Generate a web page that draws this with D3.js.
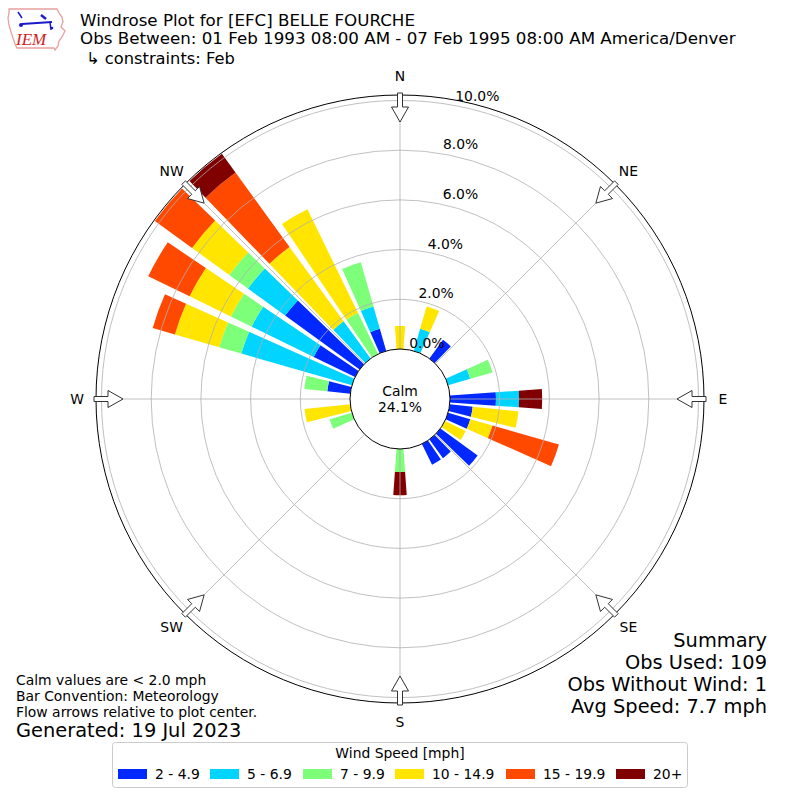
<!DOCTYPE html>
<html>
<head>
<meta charset="utf-8">
<script src="https://cdn.jsdelivr.net/npm/d3@7"></script>
<style>
  html, body { margin: 0; padding: 0; background: #fff; }
  svg { display: block; font-family: "DejaVu Sans", sans-serif; }
</style>
</head>
<body>
<svg id="chart" width="800" height="800"></svg>
<script>
// ---------------- DATA ----------------
const directions = [0,10,20,30,40,50,60,70,80,90,100,110,120,130,140,150,160,170,
                    180,190,200,210,220,230,240,250,260,270,280,290,300,310,320,330,340,350];
const speedBins = ["2 - 4.9", "5 - 6.9", "7 - 9.9", "10 - 14.9", "15 - 19.9", "20+"];
const binColors = ["#0028ff", "#00d4ff", "#7dff7a", "#ffe500", "#ff4800", "#800000"];
// percent of observations, per direction (0..350 by 10)
const s2_4_9   = [0,0,0,0,0.93,0,0,0,0,1.85, 0.93,0.93,0,1.85,0.93,0.93,0,0, 0,0,0,0,0,0,0,0,0,0,0.93,0, 1.85,3.70,0,0,0.93,0];
const s5_6_9   = [0,0,0.93,0,0,0,0,0.93,0,0.93, 0,0,0,0,0,0,0,0, 0,0,0,0,0,0,0,0,0,0,0,4.63, 2.78,1.85,1.85,0,0.93,0];
const s7_9_9   = [0,0,0,0,0,0,0,0.93,0,0, 0,0,0,0,0,0,0,0, 0.93,0,0,0,0,0,0,0.93,0,0,0.93,0.93, 0.93,0.93,0,1.85,1.85,0];
const s10_14_9 = [0.93,0,0.93,0,0,0,0,0,0,0, 1.85,0.93,0.93,0,0,0,0,0, 0,0,0,0,0,0,0,0,1.85,0,0,1.85, 1.85,1.85,3.70,4.63,0,0];
const s15_19_9 = [0,0,0,0,0,0,0,0,0,0, 0,2.78,0,0,0,0,0,0, 0,0,0,0,0,0,0,0,0,0,0,0.93, 1.85,1.85,3.70,0,0,0];
const s20plus  = [0,0,0,0,0,0,0,0,0,0.93, 0,0,0,0,0,0,0,0, 0.93,0,0,0,0,0,0,0,0,0,0,0, 0,0,0.93,0,0,0];
const radialTicks = [0, 2, 4, 6, 8, 10];
const radialMax = 10.22;
const compassLabels = ["N","NE","E","SE","S","SW","W","NW"];
const compassAngles = [0,45,90,135,180,225,270,315];
const calmPct = "24.1%";
const titleLines = ["Windrose Plot for [EFC] BELLE FOURCHE",
                    "Obs Between: 01 Feb 1993 08:00 AM - 07 Feb 1995 08:00 AM America/Denver",
                    "\u21b3 constraints: Feb"];
const noteLines = ["Calm values are < 2.0 mph", "Bar Convention: Meteorology", "Flow arrows relative to plot center."];
const generatedText = "Generated: 19 Jul 2023";
const summaryLines = ["Summary", "Obs Used: 109", "Obs Without Wind: 1", "Avg Speed: 7.7 mph"];

// ---------------- SETUP ----------------
const svg = d3.select("#chart");
const cx = 400, cy = 399;
const r = d3.scaleLinear().domain([0, radialMax]).range([50, 304]);
const rad = d => d * Math.PI / 180;
const halfWidth = 4; // degrees

const seriesArrays = [s2_4_9, s5_6_9, s7_9_9, s10_14_9, s15_19_9, s20plus];
const table = directions.map((dir, i) => {
  const row = { dir };
  speedBins.forEach((b, k) => row[b] = seriesArrays[k][i]);
  return row;
});
const stacked = d3.stack().keys(speedBins)(table);

const g = svg.append("g").attr("transform", `translate(${cx},${cy})`);

// bars
const arc = d3.arc();
stacked.forEach((layer, k) => {
  g.append("g").selectAll("path")
    .data(layer.filter(d => d[1] - d[0] > 0))
    .join("path")
    .attr("d", d => arc({
      innerRadius: r(d[0]), outerRadius: r(d[1]),
      startAngle: rad(d.data.dir - halfWidth), endAngle: rad(d.data.dir + halfWidth)
    }))
    .attr("fill", binColors[k]);
});

// grid rings
g.append("g").selectAll("circle")
  .data(radialTicks.filter(t => t > 0))
  .join("circle")
  .attr("r", d => r(d)).attr("fill", "none")
  .attr("stroke", "#b0b0b0").attr("stroke-width", 0.8);

// radial grid lines
g.append("g").selectAll("line")
  .data(compassAngles)
  .join("line")
  .attr("x1", d => r(0) * Math.sin(rad(d))).attr("y1", d => -r(0) * Math.cos(rad(d)))
  .attr("x2", d => r(radialMax) * Math.sin(rad(d))).attr("y2", d => -r(radialMax) * Math.cos(rad(d)))
  .attr("stroke", "#b0b0b0").attr("stroke-width", 0.8);

// outer circle
g.append("circle").attr("r", r(radialMax)).attr("fill", "none")
  .attr("stroke", "#000").attr("stroke-width", 1);

// calm circle
g.append("circle").attr("r", r(0)).attr("fill", "#fff")
  .attr("stroke", "#000").attr("stroke-width", 1);
g.append("text").attr("x", 0).attr("y", -3).attr("text-anchor", "middle")
  .attr("font-size", 13.9).text("Calm");
g.append("text").attr("x", 0).attr("y", 13).attr("text-anchor", "middle")
  .attr("font-size", 13.9).text(calmPct);

// radial tick labels
g.append("g").selectAll("text")
  .data(radialTicks)
  .join("text")
  .attr("x", d => r(d) * 0.185 + (d === 6 ? 6 : 0) + (d === 8 ? -3 : 0))
  .attr("y", d => -r(d) - 1 + (d === 10 ? 2 : 0))
  .attr("font-size", 13.9)
  .text(d => d.toFixed(1) + "%");

// compass labels
g.append("g").selectAll("text")
  .data(compassAngles)
  .join("text")
  .attr("x", (d) => 323 * Math.sin(rad(d)))
  .attr("y", (d) => -323 * Math.cos(rad(d)) + 5)
  .attr("text-anchor", "middle")
  .attr("font-size", 13.9)
  .text((d, i) => compassLabels[i]);

// flow arrows (pointing to center)
function arrowPath(a) {
  const u = [Math.sin(rad(a)), -Math.cos(rad(a))];
  const v = [Math.cos(rad(a)), Math.sin(rad(a))];
  const P = (rr, off) => [rr * u[0] + off * v[0], rr * u[1] + off * v[1]];
  const pts = [P(306, -2.5), P(292, -2.5), P(292, -8.5), P(277, 0), P(292, 8.5), P(292, 2.5), P(306, 2.5)];
  return "M" + pts.map(p => p[0].toFixed(2) + "," + p[1].toFixed(2)).join("L") + "Z";
}
g.append("g").selectAll("path")
  .data(compassAngles)
  .join("path")
  .attr("d", d => arrowPath(d))
  .attr("fill", "#fff").attr("stroke", "#333").attr("stroke-width", 1);

// ---------------- TITLE ----------------
const titleY = [26, 44, 64];
svg.append("g").selectAll("text")
  .data(titleLines)
  .join("text")
  .attr("x", (d, i) => i === 2 ? 86 : 80)
  .attr("y", (d, i) => titleY[i])
  .attr("font-size", (d, i) => i === 2 ? 16.3 : 16.7)
  .text(d => d);

// logo
const logo = svg.append("g");
logo.append("path")
  .attr("d", "M9,9 L57,9 L59,13 L62,17 L63,22 L61,27 L65,31 L62,37 L59,41 L58,46 L55,50 L54,48 L17,48 L15,44 L13,38 L11,32 L9,25 L8,18 L9,13 Z")
  .attr("fill", "#fff").attr("stroke", "#e8a0a0").attr("stroke-width", 1.3);
logo.append("line").attr("x1", 22).attr("y1", 24).attr("x2", 52).attr("y2", 22)
  .attr("stroke", "#1a1acc").attr("stroke-width", 2);
logo.append("line").attr("x1", 18).attr("y1", 12).attr("x2", 22).attr("y2", 18)
  .attr("stroke", "#1a1acc").attr("stroke-width", 1.5);
logo.append("line").attr("x1", 41).attr("y1", 15).attr("x2", 46).attr("y2", 19)
  .attr("stroke", "#1a1acc").attr("stroke-width", 2.5);
logo.append("line").attr("x1", 50).attr("y1", 22).attr("x2", 51).attr("y2", 30)
  .attr("stroke", "#1a1acc").attr("stroke-width", 1.5);
logo.append("circle").attr("cx", 21).attr("cy", 25).attr("r", 2).attr("fill", "#1a1acc");
logo.append("circle").attr("cx", 52).attr("cy", 28).attr("r", 1.3).attr("fill", "#1a1acc");
logo.append("text").attr("x", 16).attr("y", 45)
  .attr("font-family", "Liberation Serif, serif").attr("font-style", "italic")
  .attr("font-size", 17).attr("fill", "#d42020").text("IEM");

// ---------------- NOTES ----------------
svg.append("g").selectAll("text")
  .data(noteLines)
  .join("text")
  .attr("x", 16).attr("y", (d, i) => 685 + i * 16)
  .attr("font-size", 13.9)
  .text(d => d);
svg.append("text").attr("x", 16).attr("y", 737)
  .attr("font-size", 19.4).text(generatedText);

svg.append("g").selectAll("text")
  .data(summaryLines)
  .join("text")
  .attr("x", 767).attr("y", (d, i) => 647 + i * 22)
  .attr("text-anchor", "end")
  .attr("font-size", 19.4)
  .text(d => d);

// ---------------- LEGEND ----------------
const legend = svg.append("g");
legend.append("rect").attr("x", 112.5).attr("y", 742.5).attr("width", 575).attr("height", 45)
  .attr("rx", 3).attr("fill", "#fff").attr("stroke", "#cccccc").attr("stroke-width", 1);
legend.append("text").attr("x", 400).attr("y", 758).attr("text-anchor", "middle")
  .attr("font-size", 13.9).text("Wind Speed [mph]");
const legendX = [118, 210, 303, 395, 506, 616];
speedBins.forEach((b, k) => {
  legend.append("rect").attr("x", legendX[k]).attr("y", 769).attr("width", 29).attr("height", 10)
    .attr("fill", binColors[k]);
  legend.append("text").attr("x", legendX[k] + 37).attr("y", 779)
    .attr("font-size", 13.9).text(b);
});
</script>
</body>
</html>
